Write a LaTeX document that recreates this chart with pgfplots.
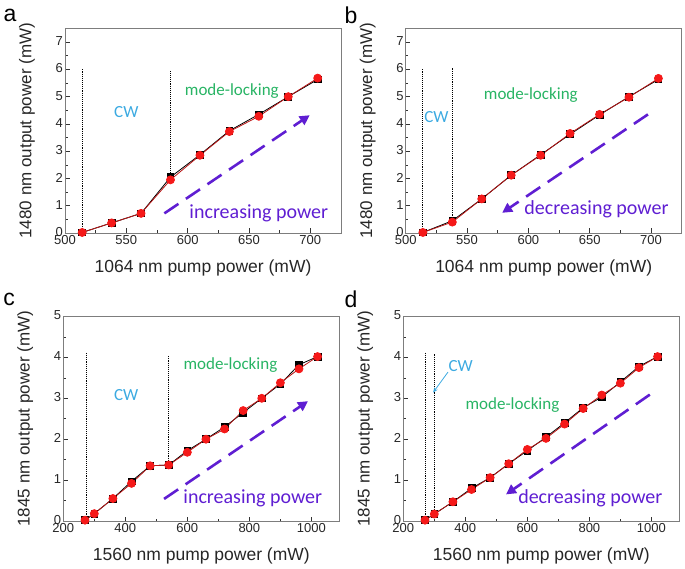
\documentclass[border=0pt]{standalone}
\usepackage{fontspec}
\setmainfont{Liberation Sans}
\newfontfamily\calfont{Carlito}
\usepackage{pgfplots}
\pgfplotsset{compat=1.18}
\usetikzlibrary{arrows.meta}
\definecolor{cwblue}{RGB}{60,170,225}
\definecolor{mlgreen}{RGB}{40,180,100}
\definecolor{pwr}{RGB}{95,30,210}
\definecolor{dred}{RGB}{185,20,20}
\definecolor{mred}{RGB}{245,25,25}
\definecolor{framec}{RGB}{125,125,125}
\tikzset{
  parrow/.style={pwr, line width=2.6pt, dash pattern=on 17pt off 9pt, -{Triangle[length=10pt,width=10pt]}},
  pwrtxt/.style={text=pwr, font=\calfont\fontsize{20}{24}\selectfont},
  mltxt/.style={text=mlgreen, font=\calfont\fontsize{17}{20}\selectfont},
  cwtxt/.style={text=cwblue, font=\calfont\fontsize{17}{20}\selectfont},
}
\pgfplotsset{
  myaxis/.style={
    scale only axis, width=276pt, height=204.5pt,
    axis line style={framec, line width=0.8pt},
    tick style={black!80, line width=0.6pt},
    major tick length=4.5pt, minor tick length=2.5pt,
    tick align=inside, tick pos=left, minor tick num=1,
    /pgf/number format/assume math mode=true,
    /pgf/number format/1000 sep={},
    xticklabel style={font=\fontsize{13}{15}\selectfont, text=black!85, inner sep=1.5pt, yshift=-1pt},
    yticklabel style={font=\fontsize{13}{15}\selectfont, text=black!85, inner sep=2pt, yshift=1pt},
    every axis x label/.style={at={(axis description cs:0.5,-0.171)}, anchor=center,
      font=\fontsize{17.5}{20}\selectfont, text=black!85},
    every axis y label/.style={at={(axis description cs:-0.138,0.5)}, anchor=center, rotate=90,
      font=\fontsize{17}{20}\selectfont, text=black!85},
    clip=false,
  },
  blk/.style={black, line width=0.8pt, mark=square*, mark size=3.4pt},
  rd/.style={dred, line width=0.8pt, mark=*, mark size=4pt, mark options={fill=mred, draw=mred}},
  vdot/.style={black, densely dotted, line width=0.9pt},
}
\begin{document}
\begin{tikzpicture}
\path[use as bounding box] (0pt,0pt) rectangle (685pt,568pt);
\node[font=\fontsize{23}{26}\selectfont, anchor=center] at (10pt,553pt) {a};
\node[font=\fontsize{23}{26}\selectfont, anchor=center] at (351pt,553pt) {b};
\node[font=\fontsize{23}{26}\selectfont, anchor=center] at (9pt,269pt) {c};
\node[font=\fontsize{23}{26}\selectfont, anchor=center] at (351pt,269pt) {d};

% panel a
\begin{axis}[myaxis, at={(65pt,335pt)}, anchor=south west,
  xmin=500, xmax=725, ymin=0, ymax=7.5,
  xtick={500,550,...,700}, ytick={0,1,...,7},
  xlabel={1064 nm pump power (mW)}, ylabel={1480 nm output power (mW)}]
\addplot[vdot] coordinates {(514,0) (514,6.05)};
\addplot[vdot] coordinates {(586,2.0) (586,5.95)};
\addplot[blk] coordinates {(514,0.02) (538,0.37) (562,0.72) (586,2.05) (610,2.87) (634,3.75) (658,4.35) (682,5.0) (706,5.63)};
\addplot[rd] coordinates {(514,0.02) (538,0.37) (562,0.72) (586,1.95) (610,2.85) (634,3.72) (658,4.28) (682,5.0) (706,5.68)};
\node[cwtxt] at (axis cs:550,4.44) {CW};
\node[mltxt] at (axis cs:636,5.2) {mode-locking};
\node[pwrtxt] at (axis cs:658,0.72) {increasing power};
\draw[parrow] (axis cs:581,0.72) -- (axis cs:699.5,4.32);
\end{axis}

% panel b
\begin{axis}[myaxis, at={(405.7pt,335pt)}, anchor=south west,
  xmin=500, xmax=725, ymin=0, ymax=7.5,
  xtick={500,550,...,700}, ytick={0,1,...,7},
  xlabel={1064 nm pump power (mW)}, ylabel={1480 nm output power (mW)}]
\addplot[vdot] coordinates {(514,0) (514,6.05)};
\addplot[vdot] coordinates {(538,0.4) (538,6.05)};
\addplot[blk] coordinates {(514,0.02) (538,0.45) (562,1.25) (586,2.12) (610,2.87) (634,3.62) (658,4.33) (682,5.0) (706,5.63)};
\addplot[rd] coordinates {(514,0.02) (538,0.40) (562,1.25) (586,2.12) (610,2.85) (634,3.65) (658,4.35) (682,4.98) (706,5.67)};
\node[cwtxt] at (axis cs:525,4.26) {CW};
\node[mltxt] at (axis cs:602,5.05) {mode-locking};
\node[pwrtxt] at (axis cs:655.5,0.88) {decreasing power};
\draw[parrow] (axis cs:697.5,4.35) -- (axis cs:578.6,0.74);
\end{axis}

% panel c
\begin{axis}[myaxis, at={(63.3pt,47pt)}, anchor=south west,
  xmin=200, xmax=1090, ymin=0, ymax=5,
  xtick={200,400,...,1000}, ytick={0,1,...,5},
  xlabel={1560 nm pump power (mW)}, ylabel={1845 nm output power (mW)}]
\addplot[vdot] coordinates {(275,0) (275,4.1)};
\addplot[vdot] coordinates {(538,1.37) (538,4.05)};
\addplot[blk] coordinates {(270,0.02) (300,0.18) (360,0.55) (420,0.97) (480,1.35) (540,1.37) (600,1.72) (660,2.0) (720,2.3) (780,2.65) (840,3.0) (900,3.35) (960,3.82) (1020,4.02)};
\addplot[rd] coordinates {(270,0.02) (300,0.18) (360,0.55) (420,0.92) (480,1.35) (540,1.37) (600,1.68) (660,2.0) (720,2.25) (780,2.7) (840,3.0) (900,3.38) (960,3.72) (1020,4.02)};
\node[cwtxt] at (axis cs:403,3.07) {CW};
\node[mltxt] at (axis cs:739,3.82) {mode-locking};
\node[pwrtxt] at (axis cs:811,0.55) {increasing power};
\draw[parrow] (axis cs:525,0.54) -- (axis cs:989,2.93);
\end{axis}

% panel d
\begin{axis}[myaxis, at={(403.3pt,47pt)}, anchor=south west,
  xmin=200, xmax=1090, ymin=0, ymax=5,
  xtick={200,400,...,1000}, ytick={0,1,...,5},
  xlabel={1560 nm pump power (mW)}, ylabel={1845 nm output power (mW)}]
\addplot[vdot] coordinates {(273,0) (273,4.1)};
\addplot[vdot] coordinates {(301,0.17) (301,4.1)};
\addplot[blk] coordinates {(270,0.02) (300,0.17) (360,0.47) (420,0.8) (480,1.06) (540,1.40) (600,1.72) (660,2.05) (720,2.4) (780,2.77) (840,3.03) (900,3.4) (960,3.78) (1020,4.02)};
\addplot[rd] coordinates {(270,0.02) (300,0.17) (360,0.47) (420,0.77) (480,1.06) (540,1.40) (600,1.75) (660,2.02) (720,2.37) (780,2.75) (840,3.08) (900,3.37) (960,3.75) (1020,4.02)};
\node[cwtxt] at (axis cs:385,3.8) {CW};
\draw[cwblue, line width=0.8pt, -{Stealth[length=5pt,width=4pt]}] (axis cs:344,3.64) -- (axis cs:296,3.14);
\node[mltxt] at (axis cs:552,2.83) {mode-locking};
\node[pwrtxt] at (axis cs:803,0.55) {decreasing power};
\draw[parrow] (axis cs:995,3.09) -- (axis cs:531,0.65);
\end{axis}
\end{tikzpicture}
\end{document}
